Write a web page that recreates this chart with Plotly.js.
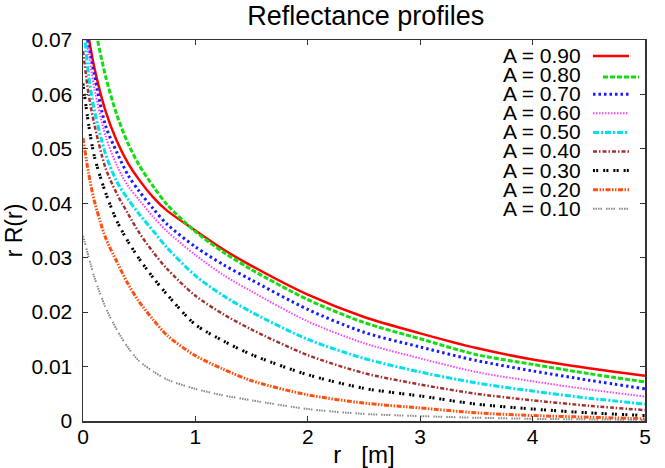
<!DOCTYPE html>
<html>
<head>
<meta charset="utf-8">
<script src="https://cdn.plot.ly/plotly-3.0.1.min.js"></script>
<style>html,body{margin:0;padding:0;background:#fff;}#chart{width:665px;height:468px;}</style>
</head>
<body>
<div id="chart"></div>
<script>
// ---- data ----
const rValues = [0, 0.05, 0.1, 0.2, 0.3, 0.4, 0.5, 0.625, 0.75, 1, 1.25, 1.5, 2, 2.5, 3, 3.5, 4, 4.5, 5];
const seriesNames = ["A = 0.90", "A = 0.80", "A = 0.70", "A = 0.60", "A = 0.50", "A = 0.40", "A = 0.30", "A = 0.20", "A = 0.10"];
const a090 = [0.076, 0.0705, 0.0650, 0.0570, 0.0515, 0.0474, 0.0443, 0.0411, 0.0386, 0.0350, 0.0315, 0.0285, 0.0232, 0.0191, 0.0161, 0.0134, 0.0113, 0.0097, 0.0083];
const a080 = [0.085, 0.079, 0.073, 0.0634, 0.0563, 0.0510, 0.0470, 0.0431, 0.0397, 0.0348, 0.0310, 0.0278, 0.0223, 0.0181, 0.0151, 0.0122, 0.0104, 0.0087, 0.0072];
const a070 = [0.074, 0.0690, 0.0637, 0.0543, 0.0494, 0.0452, 0.0422, 0.0390, 0.0361, 0.0320, 0.0287, 0.0259, 0.0205, 0.0163, 0.0136, 0.0111, 0.0092, 0.0075, 0.0059];
const a060 = [0.074, 0.0675, 0.0612, 0.0524, 0.0470, 0.0432, 0.0406, 0.0375, 0.0348, 0.0305, 0.0268, 0.0238, 0.0183, 0.0143, 0.0115, 0.0090, 0.0073, 0.0058, 0.0045];
const a050 = [0.074, 0.0636, 0.0572, 0.0491, 0.0440, 0.0408, 0.0380, 0.0349, 0.0318, 0.0267, 0.0230, 0.0200, 0.0150, 0.0115, 0.0090, 0.0070, 0.0055, 0.0042, 0.0031];
const a040 = [0.068, 0.0600, 0.0546, 0.0465, 0.0418, 0.0381, 0.0346, 0.0310, 0.0279, 0.0230, 0.0196, 0.0168, 0.0121, 0.0088, 0.0067, 0.0050, 0.0038, 0.0028, 0.0020];
const a030 = [0.062, 0.0545, 0.0487, 0.0420, 0.0368, 0.0330, 0.0298, 0.0263, 0.0232, 0.0177, 0.0147, 0.0122, 0.0085, 0.0060, 0.0046, 0.0031, 0.0022, 0.0015, 0.0010];
const a020 = [0.052, 0.0455, 0.0405, 0.0337, 0.0293, 0.0252, 0.0219, 0.0186, 0.0157, 0.0120, 0.0095, 0.0074, 0.0048, 0.0033, 0.0024, 0.0015, 0.0010, 0.0007, 0.0004];
const a010 = [0.034, 0.0302, 0.0265, 0.0209, 0.0168, 0.0135, 0.0110, 0.0091, 0.0076, 0.0059, 0.0047, 0.0038, 0.0022, 0.0013, 0.0009, 0.0006, 0.0004, 0.0003, 0.0002];
const xTickVals = [0, 1, 2, 3, 4, 5];
const yTickVals = [0, 0.01, 0.02, 0.03, 0.04, 0.05, 0.06, 0.07];

// ---- styles ----
const allSeries = [a090, a080, a070, a060, a050, a040, a030, a020, a010];
const colors = ["#ff0000", "#11dd11", "#1a1aff", "#ff40ff", "#00e0ee", "#a53030", "#000000", "#ff5010", "#888888"];
const dashes = ["solid", "5px,2px", "2.5px,3px", "1.5px,1.5px", "6px,2px,2px,2px", "4px,2px,1.5px,2px",
                "2px,1.2px,2px,5px", "5px,1.5px,1.5px,1.5px,1.5px,1.5px", "1.5px,1px,1.5px,1px,1.5px,1px,1.5px,4px"];
const widths = [2.5, 3, 3, 2, 3, 2.5, 3, 3, 2];
const FONT = "Liberation Sans, Arial, Helvetica, sans-serif";
const KEY_FONT = 21, KEY_ROW = 19.1, KEY_TOP = 56;

const traces = allSeries.map((ys, i) => ({
  type: "scatter", mode: "lines", x: rValues, y: ys, name: seriesNames[i],
  line: {color: colors[i], dash: dashes[i], width: widths[i], shape: "spline", smoothing: 0.8},
  showlegend: false, hoverinfo: "skip"
}));

// gnuplot-style key: right-aligned text block followed by line samples
const plotL = 83, plotT = 40, plotW = 562, plotH = 381;
const px2x = p => (p - plotL) / plotW;
const py2y = p => (plotT + plotH - p) / plotH;
const shapes = [];
seriesNames.forEach((nm, i) => {
  const rowY = KEY_TOP + i * KEY_ROW;
  const off = (i === 1) ? 10 : 0;
  const dy = (i === 1) ? 2 : 0;
  shapes.push({type: "line", xref: "paper", yref: "paper", x0: px2x(593 + off), x1: px2x(629 + off),
    y0: py2y(rowY + dy), y1: py2y(rowY + dy), line: {color: colors[i], dash: dashes[i], width: widths[i]}});
});
const annotations = [{
  xref: "paper", yref: "paper", x: px2x(582), y: py2y(KEY_TOP - 13), xanchor: "right", yanchor: "top",
  align: "right", text: seriesNames.join("<br>"), showarrow: false, borderpad: 0,
  font: {family: FONT, size: KEY_FONT, color: "#000"}
}];

const axisCommon = {
  showgrid: false, zeroline: false, showline: true, linecolor: "#333", linewidth: 1.5,
  ticks: "inside", ticklen: 5, tickwidth: 1, tickcolor: "#333", mirror: "ticks",
  tickfont: {family: FONT, size: 21, color: "#000"}, fixedrange: true
};

const layout = {
  width: 665, height: 468,
  margin: {l: plotL, r: 665 - plotL - plotW, t: plotT, b: 468 - plotT - plotH, pad: 0},
  paper_bgcolor: "#fff", plot_bgcolor: "#fff",
  title: {text: "Reflectance profiles", font: {family: FONT, size: 27, color: "#000"},
          x: 0.55, xanchor: "center", y: 1 - 16 / 468, yanchor: "middle", yref: "container"},
  xaxis: Object.assign({}, axisCommon, {range: [0, 5], tickvals: xTickVals, ticktext: xTickVals.map(String),
          ticklabelstandoff: -4,
          title: {text: "r\u00a0\u00a0\u00a0[m]", font: {family: FONT, size: 24, color: "#000"}, standoff: 2}}),
  yaxis: Object.assign({}, axisCommon, {range: [0, 0.07], tickvals: yTickVals, ticktext: yTickVals.map(v => String(v)),
          ticklabelstandoff: 5,
          title: {text: "r R(r)", font: {family: FONT, size: 23, color: "#000"}, standoff: 2}}),
  showlegend: false,
  annotations: annotations,
  shapes: shapes
};

function tightenKey() {
  // gnuplot key rows are tighter than Plotly's default line spacing
  const lines = document.querySelectorAll("#chart .annotation-text tspan.line");
  lines.forEach((t, i) => t.setAttribute("dy", (i * KEY_ROW / KEY_FONT).toFixed(4) + "em"));
}

Plotly.newPlot("chart", traces, layout, {staticPlot: true, displayModeBar: false}).then(tightenKey);
</script>
</body>
</html>
